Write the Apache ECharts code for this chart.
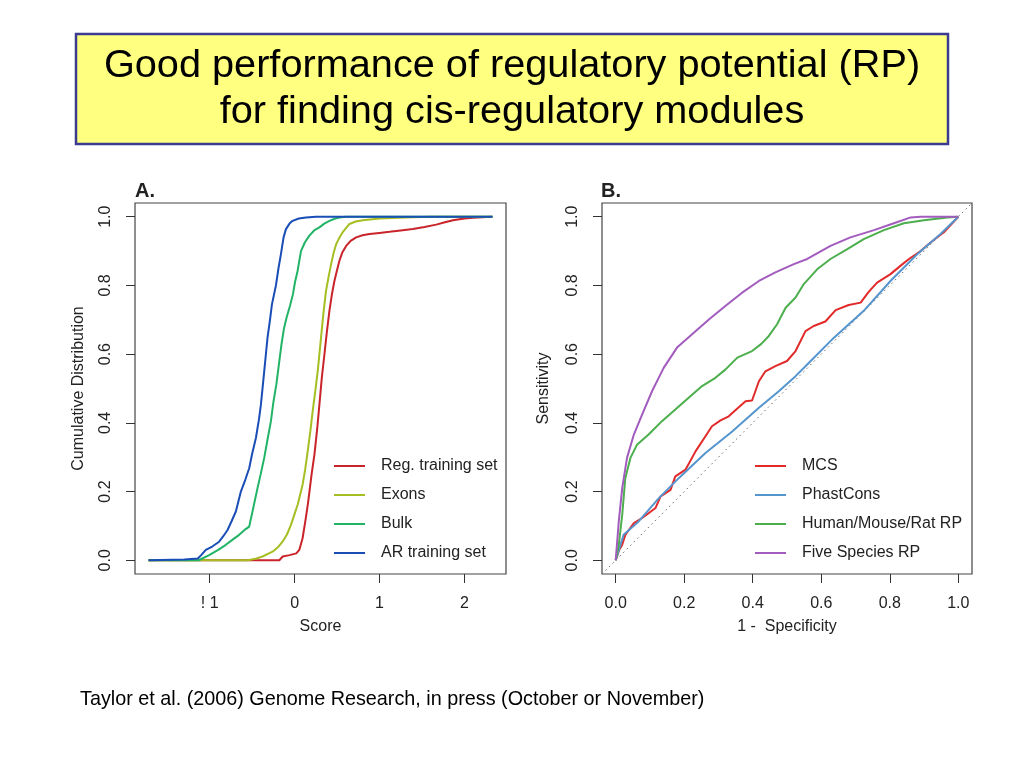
<!DOCTYPE html>
<html>
<head>
<meta charset="utf-8">
<script src="https://cdn.jsdelivr.net/npm/echarts@6/dist/echarts.min.js"></script>
<style>
html,body{margin:0;padding:0;background:#fff;}
#chart{width:1024px;height:768px;}
</style>
</head>
<body>
<div id="chart"></div>
<script>
// ---------- Panel A: cumulative distribution of RP scores ----------
const scoreTicks = [-1, 0, 1, 2];
const probTicks = [0, 0.2, 0.4, 0.6, 0.8, 1.0];

const regScore = [-1.72,-0.18,-0.14,-0.06,0.02,0.055,0.094,0.13,0.16,0.2,0.233,0.265,0.292,0.32,0.351,0.38,0.41,0.44,0.469,0.5,0.528,0.56,0.607,0.66,0.725,0.8,0.882,1.0,1.118,1.25,1.393,1.53,1.669,1.77,1.866,2.0,2.1,2.33];
const regCum   = [0,0,0.011,0.015,0.02,0.03,0.064,0.12,0.17,0.25,0.307,0.38,0.453,0.53,0.599,0.665,0.726,0.775,0.813,0.845,0.872,0.895,0.915,0.93,0.94,0.946,0.95,0.953,0.956,0.96,0.964,0.97,0.977,0.984,0.99,0.995,0.997,1.0];

const exonScore = [-1.72,-0.55,-0.45,-0.378,-0.26,-0.2,-0.142,-0.09,-0.043,0.0,0.035,0.094,0.125,0.154,0.185,0.213,0.245,0.272,0.311,0.34,0.37,0.4,0.43,0.46,0.489,0.53,0.567,0.646,0.72,0.803,1.0,1.3,1.6,2.33];
const exonCum   = [0,0,0.005,0.011,0.025,0.037,0.054,0.075,0.103,0.135,0.161,0.22,0.265,0.317,0.375,0.434,0.495,0.55,0.648,0.72,0.784,0.825,0.862,0.895,0.92,0.94,0.955,0.979,0.986,0.99,0.995,0.998,1.0,1.0];

const bulkScore = [-1.72,-1.13,-1.007,-0.9,-0.81,-0.73,-0.653,-0.58,-0.535,-0.496,-0.437,-0.4,-0.358,-0.32,-0.279,-0.25,-0.215,-0.185,-0.155,-0.125,-0.095,-0.055,-0.02,0.005,0.035,0.075,0.12,0.174,0.23,0.292,0.35,0.41,0.47,0.528,0.6,2.33];
const bulkCum   = [0,0,0.015,0.03,0.045,0.06,0.074,0.09,0.098,0.142,0.21,0.25,0.298,0.35,0.405,0.46,0.512,0.57,0.628,0.675,0.706,0.74,0.774,0.81,0.842,0.9,0.925,0.945,0.96,0.969,0.98,0.988,0.994,0.998,1.0,1.0];

const arScore = [-1.72,-1.3,-1.14,-1.1,-1.046,-0.97,-0.889,-0.84,-0.79,-0.74,-0.692,-0.633,-0.58,-0.535,-0.5,-0.456,-0.42,-0.397,-0.358,-0.319,-0.29,-0.267,-0.22,-0.19,-0.161,-0.13,-0.102,-0.06,-0.024,0.05,0.134,0.25,2.33];
const arCum   = [0,0.002,0.005,0.015,0.03,0.04,0.054,0.07,0.088,0.115,0.142,0.2,0.235,0.268,0.31,0.356,0.41,0.453,0.55,0.648,0.7,0.745,0.8,0.85,0.891,0.94,0.964,0.98,0.988,0.995,0.998,1.0,1.0];

// ---------- Panel B: ROC curves ----------
const rateTicks = [0, 0.2, 0.4, 0.6, 0.8, 1.0];
const diagonal = [-0.04, 1.04];

const mcsFpr  = [0,0.01,0.019,0.028,0.053,0.077,0.096,0.116,0.131,0.16,0.174,0.204,0.233,0.262,0.281,0.306,0.33,0.355,0.379,0.398,0.418,0.437,0.466,0.5,0.525,0.554,0.578,0.612,0.642,0.68,0.715,0.739,0.763,0.802,0.831,0.856,0.89,0.919,0.958,1];
const mcsTpr  = [0,0.03,0.045,0.074,0.108,0.123,0.137,0.152,0.186,0.205,0.244,0.264,0.317,0.361,0.39,0.407,0.419,0.442,0.463,0.465,0.521,0.55,0.565,0.58,0.609,0.667,0.682,0.695,0.728,0.743,0.75,0.782,0.808,0.833,0.857,0.877,0.9,0.925,0.955,1];

const phastFpr = [0,0.023,0.067,0.126,0.184,0.262,0.34,0.418,0.476,0.525,0.559,0.637,0.724,0.802,0.88,0.948,1];
const phastTpr = [0,0.074,0.113,0.181,0.239,0.312,0.375,0.444,0.492,0.536,0.57,0.648,0.726,0.813,0.891,0.95,1];

const hmrFpr = [0,0.009,0.019,0.028,0.043,0.062,0.096,0.135,0.174,0.213,0.252,0.291,0.32,0.355,0.398,0.425,0.447,0.471,0.496,0.525,0.549,0.588,0.627,0.676,0.724,0.783,0.841,0.9,0.968,1];
const hmrTpr = [0,0.045,0.132,0.239,0.298,0.336,0.366,0.405,0.439,0.473,0.507,0.531,0.555,0.59,0.609,0.63,0.653,0.687,0.735,0.765,0.804,0.847,0.877,0.906,0.935,0.961,0.981,0.99,0.998,1];

const fiveFpr = [0,0.009,0.019,0.033,0.053,0.077,0.106,0.14,0.179,0.223,0.272,0.32,0.369,0.418,0.466,0.52,0.559,0.627,0.685,0.754,0.812,0.861,0.89,1];
const fiveTpr = [0,0.113,0.21,0.298,0.366,0.424,0.492,0.56,0.619,0.658,0.701,0.74,0.779,0.813,0.838,0.862,0.877,0.915,0.94,0.961,0.981,0.998,1.0,1];

const legendA = ['Reg. training set', 'Exons', 'Bulk', 'AR training set'];
const legendB = ['MCS', 'PhastCons', 'Human/Mouse/Rat RP', 'Five Species RP'];

function zip(xs, ys) { return xs.map((x, i) => [x, ys[i]]); }

const FONT = '"Liberation Sans", Arial, Helvetica, sans-serif';
const TXT = '#222';

function valueAxis(gridIndex, min, max, ticks, fmt, name, nameGap, isY) {
  return {
    type: 'value', gridIndex, min, max, name,
    nameLocation: 'middle', nameGap,
    nameTextStyle: { fontFamily: FONT, fontSize: 16, color: TXT },
    axisLine: { show: false, onZero: false },
    axisTick: { show: true, inside: false, length: 9, customValues: ticks, lineStyle: { color: '#333', width: 1 } },
    axisLabel: { customValues: ticks, formatter: fmt, margin: isY ? 21 : 22, rotate: isY ? 90 : 0,
                 fontFamily: FONT, fontSize: 16, color: TXT },
    splitLine: { show: false }
  };
}
const fmt1 = v => v.toFixed(1);
const fmtScore = v => (v === -1 ? '! 1' : String(v));

function lineSeries(name, data, color, xi, width) {
  return {
    name, type: 'line', xAxisIndex: xi, yAxisIndex: xi, data,
    showSymbol: false, symbol: 'none', smooth: false,
    lineStyle: { color, width: width || 2 },
    itemStyle: { color },
    emphasis: { disabled: true }
  };
}

function legendCfg(names, left) {
  return {
    data: names, orient: 'vertical', left, top: 452,
    icon: 'rect', itemWidth: 31, itemHeight: 2, itemGap: 11,
    selectedMode: false,
    textStyle: { fontFamily: FONT, fontSize: 16, lineHeight: 18, color: TXT, padding: [0, 0, 0, 11] }
  };
}

const chart = echarts.init(document.getElementById('chart'), null, { renderer: 'canvas' });
chart.setOption({
  animation: false,
  backgroundColor: '#fff',
  grid: [
    { left: 135, top: 203, width: 371, height: 371, show: true, borderColor: '#444', borderWidth: 1.2, backgroundColor: 'transparent' },
    { left: 602, top: 203, width: 370, height: 371, show: true, borderColor: '#444', borderWidth: 1.2, backgroundColor: 'transparent' }
  ],
  xAxis: [
    valueAxis(0, -1.88, 2.49, scoreTicks, fmtScore, 'Score', 45, false),
    valueAxis(1, -0.04, 1.04, rateTicks, fmt1, '1 -  Specificity', 45, false)
  ],
  yAxis: [
    valueAxis(0, -0.04, 1.04, probTicks, fmt1, 'Cumulative Distribution', 48, true),
    valueAxis(1, -0.04, 1.04, rateTicks, fmt1, 'Sensitivity', 50, true)
  ],
  legend: [ legendCfg(legendA, 329), legendCfg(legendB, 750) ],
  series: [
    lineSeries('Reg. training set', zip(regScore, regCum), '#C8242A', 0),
    lineSeries('Exons', zip(exonScore, exonCum), '#A6BE22', 0),
    lineSeries('Bulk', zip(bulkScore, bulkCum), '#22B466', 0),
    lineSeries('AR training set', zip(arScore, arCum), '#1A4EB6', 0),
    {
      type: 'line', xAxisIndex: 1, yAxisIndex: 1, showSymbol: false, symbol: 'none',
      data: [[diagonal[0], diagonal[0]], [diagonal[1], diagonal[1]]],
      lineStyle: { color: '#666', width: 1, type: [1.5, 3.5] }, silent: true
    },
    lineSeries('MCS', zip(mcsFpr, mcsTpr), '#E22A2A', 1),
    lineSeries('PhastCons', zip(phastFpr, phastTpr), '#5595CE', 1),
    lineSeries('Human/Mouse/Rat RP', zip(hmrFpr, hmrTpr), '#4CAE4C', 1),
    lineSeries('Five Species RP', zip(fiveFpr, fiveTpr), '#A25CBE', 1)
  ],
  graphic: [
    { type: 'rect', shape: { x: 76, y: 34, width: 872, height: 110 },
      style: { fill: '#FFFF80', stroke: '#3B3B8F', lineWidth: 2.5 }, z: 0 },
    { type: 'text', x: 512, y: 66, z: 1,
      style: { text: 'Good performance of regulatory potential (RP)', font: '39.7px ' + FONT, fill: '#000', textAlign: 'center', textVerticalAlign: 'middle' } },
    { type: 'text', x: 512, y: 112.5, z: 1,
      style: { text: 'for finding cis-regulatory modules', font: '39.7px ' + FONT, fill: '#000', textAlign: 'center', textVerticalAlign: 'middle' } },
    { type: 'text', x: 135, y: 191,
      style: { text: 'A.', font: 'bold 20px ' + FONT, fill: '#222', textAlign: 'left', textVerticalAlign: 'middle' } },
    { type: 'text', x: 601, y: 191,
      style: { text: 'B.', font: 'bold 20px ' + FONT, fill: '#222', textAlign: 'left', textVerticalAlign: 'middle' } },
    { type: 'text', x: 80, y: 700,
      style: { text: 'Taylor et al. (2006) Genome Research, in press (October or November)', font: '19.8px ' + FONT, fill: '#000', textAlign: 'left', textVerticalAlign: 'middle' } }
  ]
});
</script>
</body>
</html>
